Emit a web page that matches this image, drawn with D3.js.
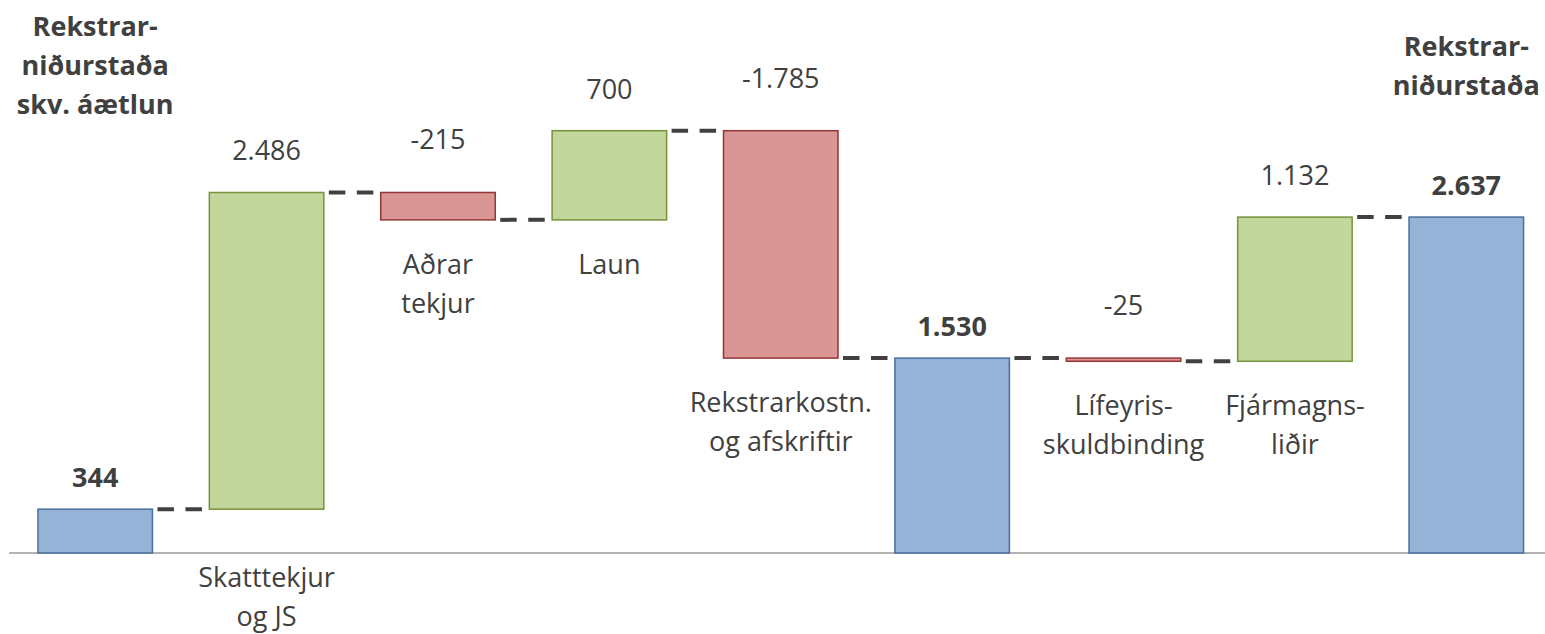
<!DOCTYPE html>
<html>
<head>
<meta charset="utf-8">
<script src="https://cdn.jsdelivr.net/npm/d3@7"></script>
<style>
  html, body { margin: 0; padding: 0; background: #fff; }
  svg { display: block; }
  text { font-family: "Open Sans", Lato, sans-serif; fill: #404040; }
</style>
</head>
<body>
<div id="chart"></div>
<script>
// Waterfall: rekstrarniðurstaða frá áætlun til niðurstöðu
const categories = ['aaetlun', 'skatttekjur', 'adrar', 'laun', 'rekstrarkostn', 'millisumma', 'lifeyris', 'fjarmagns', 'nidurstada'];
const labelLines = [
  ['Rekstrar-', 'niðurstaða', 'skv. áætlun'],
  ['Skatttekjur', 'og JS'],
  ['Aðrar', 'tekjur'],
  ['Laun'],
  ['Rekstrarkostn.', 'og afskriftir'],
  [],
  ['Lífeyris-', 'skuldbinding'],
  ['Fjármagns-', 'liðir'],
  ['Rekstrar-', 'niðurstaða']
];
const values = [344, 2486, -215, 700, -1785, 1530, -25, 1132, 2637];
const kinds = ['total', 'delta', 'delta', 'delta', 'delta', 'total', 'delta', 'delta', 'total'];

const width = 1545, height = 634;
const axisY = 553;
const fontSize = 27;
const lineH = 39;

const colors = {
  total: { fill: '#95B3D7', stroke: '#4A6E9C' },
  up: { fill: '#C3D69B', stroke: '#76923C' },
  down: { fill: '#D99694', stroke: '#943634' }
};

// Íslenskt talnasnið: punktur sem þúsundaskil
const fmt = d3.formatLocale({ decimal: ',', thousands: '.', grouping: [3], currency: ['', ' kr.'], minus: '-' }).format(',d');

// Reikna upphaf og enda hverrar súlu
let running = 0;
const bars = values.map((v, i) => {
  let start, end;
  if (kinds[i] === 'total') {
    start = 0; end = v; running = v;
  } else {
    start = running; end = running + v; running = end;
  }
  const type = kinds[i] === 'total' ? 'total' : (v >= 0 ? 'up' : 'down');
  return { key: categories[i], value: v, start, end, type, lines: labelLines[i], index: i, level: running };
});

const x = d3.scaleBand()
  .domain(categories)
  .range([9.5, 1552])
  .paddingInner(0.332)
  .paddingOuter(0.166);

const y = d3.scaleLinear()
  .domain([0, d3.max(bars, d => Math.max(d.start, d.end))])
  .range([axisY, 130.7]);

const svg = d3.select('#chart')
  .append('svg')
  .attr('width', width)
  .attr('height', height);

// Grunnlína
svg.append('line')
  .attr('x1', 9).attr('x2', width)
  .attr('y1', axisY).attr('y2', axisY)
  .attr('stroke', '#9a9a9a')
  .attr('stroke-width', 1.5);

// Tengilínur milli súlna
const links = bars.slice(0, -1).map((d, i) => ({ from: d, to: bars[i + 1] }));
svg.selectAll('.link')
  .data(links)
  .enter()
  .append('line')
  .attr('class', 'link')
  .attr('x1', d => x(d.from.key) + x.bandwidth())
  .attr('x2', d => x(d.to.key))
  .attr('y1', d => y(d.from.level))
  .attr('y2', d => y(d.from.level))
  .attr('stroke', '#404040')
  .attr('stroke-width', 4)
  .attr('stroke-dasharray', '16.5,11.5')
  .attr('stroke-dashoffset', 23);

// Súlur
svg.selectAll('.bar')
  .data(bars)
  .enter()
  .append('rect')
  .attr('class', 'bar')
  .attr('x', d => x(d.key))
  .attr('width', x.bandwidth())
  .attr('y', d => y(Math.max(d.start, d.end)))
  .attr('height', d => Math.abs(y(d.start) - y(d.end)))
  .attr('fill', d => colors[d.type].fill)
  .attr('stroke', d => colors[d.type].stroke)
  .attr('stroke-width', 1.5);

// Gildismerki ofan við súlur
const valueGap = { total: 22, up: 32, down: 43 };
svg.selectAll('.value')
  .data(bars)
  .enter()
  .append('text')
  .attr('class', 'value')
  .attr('x', d => x(d.key) + x.bandwidth() / 2)
  .attr('y', d => y(Math.max(d.start, d.end)) - valueGap[d.type])
  .attr('text-anchor', 'middle')
  .style('font-size', fontSize + 'px')
  .style('font-weight', d => d.type === 'total' ? 'bold' : 'normal')
  .text(d => fmt(d.value));

// Heiti flokka: breytingar undir súlu, heildartölur efst
const catLabels = svg.selectAll('.cat')
  .data(bars.filter(d => d.lines.length))
  .enter()
  .append('text')
  .attr('class', 'cat')
  .attr('text-anchor', 'middle')
  .style('font-size', fontSize + 'px')
  .style('font-weight', d => d.type === 'total' ? 'bold' : 'normal')
  .attr('transform', d => {
    const cx = x(d.key) + x.bandwidth() / 2;
    let top;
    if (d.type === 'total') {
      top = 75 - (d.lines.length - 1) * lineH / 2;
    } else {
      top = y(Math.min(d.start, d.end)) + 54;
      // ef merkið lendir á grunnlínunni, færa það niður fyrir hana
      if (top + (d.lines.length - 1) * lineH > axisY - 10) top = axisY + 34;
    }
    return `translate(${cx},${top})`;
  });

catLabels.selectAll('tspan')
  .data(d => d.lines)
  .enter()
  .append('tspan')
  .attr('x', 0)
  .attr('y', (d, i) => i * lineH)
  .text(d => d);
</script>
</body>
</html>
